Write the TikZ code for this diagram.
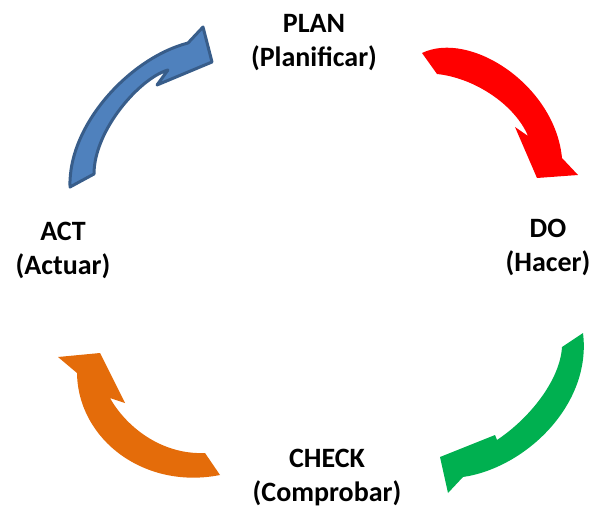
\documentclass[tikz,border=0pt]{standalone}
\usepackage{fontspec}
\setmainfont{Carlito}
\begin{document}
\begin{tikzpicture}[x=1pt,y=-1pt,
  label/.style={font=\fontsize{28}{34}\selectfont\bfseries, align=center, inner sep=0pt},
  bluearrow/.style={fill={rgb,255:red,79;green,129;blue,189}, draw={rgb,255:red,56;green,93;blue,138}, line width=3pt, line join=round},
  redarrow/.style={fill={rgb,255:red,255;green,0;blue,0}, line join=round},
  greenarrow/.style={fill={rgb,255:red,0;green,176;blue,80}, line join=round},
  orangearrow/.style={fill={rgb,255:red,228;green,108;blue,10}, line join=round}]
\useasboundingbox (0,0) rectangle (595,508);

% ACT -> PLAN
\path[bluearrow] (70,187) .. controls (68,125) and (130,58) .. (188,43)
  -- (203,27) -- (212,62) -- (157,85) -- (168,70)
  .. controls (140,78) and (94,130) .. (94,174) -- cycle;

% PLAN -> DO
\path[redarrow] (422,53) .. controls (470,30) and (555,85) .. (562,158)
  -- (578,175) -- (537,178) -- (515,127) -- (528,136)
  .. controls (515,105) and (475,78) .. (437,74) -- cycle;

% DO -> CHECK
\path[greenarrow] (583,333) .. controls (592,405) and (525,468) .. (463,477)
  -- (448,493) -- (440,457) -- (495,435) -- (497,440)
  .. controls (530,418) and (560,380) .. (562,347) -- cycle;

% CHECK -> ACT
\path[orangearrow] (220,475) .. controls (145,490) and (78,440) .. (77,373)
  -- (58,357) -- (100,353) -- (125,403) -- (110,398)
  .. controls (125,425) and (160,455) .. (205,453) -- cycle;

\node[label, anchor=base] (plan) at (314,67) {PLAN\\(Planificar)};
\node[label, anchor=base] (do) at (548,272) {DO\\(Hacer)};
\node[label, anchor=base] (check) at (327,501) {CHECK\\(Comprobar)};
\node[label, anchor=base] (act) at (63,274) {ACT\\(Actuar)};
\end{tikzpicture}
\end{document}
